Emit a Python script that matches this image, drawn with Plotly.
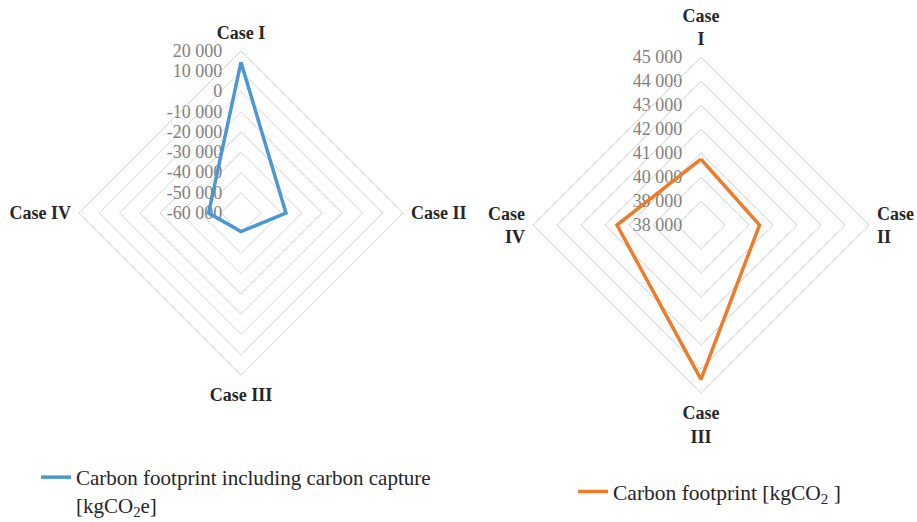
import plotly.graph_objects as go

cases = ["Case I", "Case II", "Case III", "Case IV"]
left_labels = ["Case I", "Case II", "Case III", "Case IV"]
right_labels = ["Case<br>I", "Case<br>II", "Case<br>III", "Case<br>IV"]

capture_values = [14500, -37800, -50800, -44000]
footprint_values = [40740, 40440, 44430, 41500]

left_ticks = [-60000, -50000, -40000, -30000, -20000, -10000, 0, 10000, 20000]
left_ticktext = ["-60 000", "-50 000", "-40 000", "-30 000", "-20 000", "-10 000", "0", "10 000", "20 000"]
right_ticks = [38000, 39000, 40000, 41000, 42000, 43000, 44000, 45000]
right_ticktext = ["38 000", "39 000", "40 000", "41 000", "42 000", "43 000", "44 000", "45 000"]

name_left = "Carbon footprint including carbon capture<br>[kgCO<sub>2</sub>e]"
name_right = "Carbon footprint [kgCO<sub>2</sub> ]"

FONT = "Liberation Serif"
GRID = "#d4d4d4"

fig = go.Figure()
fig.add_trace(go.Scatterpolar(
    r=capture_values + capture_values[:1], theta=cases + cases[:1],
    mode="lines", line=dict(color="#4a97d2", width=3.5),
    name=name_left, subplot="polar", legend="legend"))
fig.add_trace(go.Scatterpolar(
    r=footprint_values + footprint_values[:1], theta=cases + cases[:1],
    mode="lines", line=dict(color="#ed7b2a", width=3.5),
    name=name_right, subplot="polar2", legend="legend2"))

def polar_cfg(dom_x, dom_y, rng, tv, tt, labels):
    return dict(
        domain=dict(x=dom_x, y=dom_y),
        gridshape="linear",
        bgcolor="rgba(0,0,0,0)",
        radialaxis=dict(range=rng, tickvals=tv, ticktext=tt, angle=90,
                        showline=False, gridcolor=GRID, gridwidth=1,
                        ticks="outside", ticklen=12, tickcolor="rgba(0,0,0,0)",
                        tickfont=dict(family=FONT, size=18, color="#808080"),
                        side="counterclockwise", tickangle=90, layer="below traces"),
        angularaxis=dict(categoryorder="array", categoryarray=cases,
                         tickvals=cases, ticktext=labels,
                         rotation=90, direction="clockwise",
                         showgrid=False, showline=True, linecolor=GRID, linewidth=1,
                         ticks="outside", ticklen=4, tickcolor="rgba(0,0,0,0)",
                         tickfont=dict(family=FONT, size=18, color="#262626", weight="bold")),
    )

fig.update_layout(
    width=917, height=522,
    margin=dict(l=0, r=0, t=0, b=0, autoexpand=False),
    font=dict(family=FONT),
    paper_bgcolor="white", plot_bgcolor="white",
    polar=polar_cfg([79/917, 403/917], [1-375/522, 1-51/522], [-60000, 20000], left_ticks, left_ticktext, left_labels),
    polar2=polar_cfg([533/917, 869/917], [1-393/522, 1-57/522], [38000, 45000], right_ticks, right_ticktext, right_labels),
    legend=dict(x=36/917, y=1-457/522, xanchor="left", yanchor="top", valign="top",
                font=dict(family=FONT, size=21, color="#262626"), bgcolor="rgba(0,0,0,0)"),
    legend2=dict(x=573/917, y=1-471/522, xanchor="left", yanchor="top", valign="top",
                 font=dict(family=FONT, size=21.5, color="#262626"), bgcolor="rgba(0,0,0,0)"),
    showlegend=True,
)

fig.write_html("out.html", config={"displayModeBar": False},
               post_script="document.body.style.margin='0';")
